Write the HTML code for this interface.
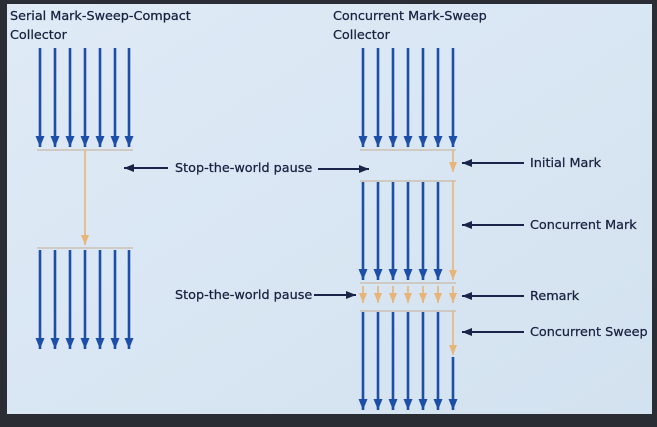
<!DOCTYPE html>
<html><head><meta charset="utf-8"><style>
html,body{margin:0;padding:0;background:#2a2d33;}
svg{display:block;}
text{font-family:"DejaVu Sans","Liberation Sans",sans-serif;font-size:12.8px;fill:#18213f;stroke:#18213f;stroke-width:0.25;}
</style></head><body>
<svg width="657" height="427" viewBox="0 0 657 427" xmlns="http://www.w3.org/2000/svg">
<defs>
<marker id="b" markerUnits="userSpaceOnUse" markerWidth="9" markerHeight="11" refX="4.5" refY="11" orient="0"><polygon points="0,0 9,0 4.5,11" fill="#1d4fa8"/></marker>
<marker id="o" markerUnits="userSpaceOnUse" markerWidth="8" markerHeight="10" refX="4" refY="10" orient="0"><polygon points="0,0 8,0 4,10" fill="#e6b577"/></marker>
<marker id="k" markerUnits="userSpaceOnUse" markerWidth="10" markerHeight="8" refX="10" refY="4" orient="auto"><polygon points="0,0 10,4 0,8" fill="#1a2448"/></marker>
<linearGradient id="bg" x1="0" y1="0" x2="1" y2="1"><stop offset="0" stop-color="#dfeaf6"/><stop offset="1" stop-color="#d3e2f0"/></linearGradient>
</defs>
<rect x="7" y="4" width="645" height="410" fill="url(#bg)"/>
<text x="10" y="20">Serial Mark-Sweep-Compact</text>
<text x="10" y="39">Collector</text>
<text x="333" y="20">Concurrent Mark-Sweep</text>
<text x="333" y="39">Collector</text>
<g stroke="#1d4fa8" stroke-width="2.6" marker-end="url(#b)">
<line x1="40" y1="48" x2="40" y2="147"/><line x1="55" y1="48" x2="55" y2="147"/><line x1="70" y1="48" x2="70" y2="147"/><line x1="85" y1="48" x2="85" y2="147"/><line x1="100" y1="48" x2="100" y2="147"/><line x1="115" y1="48" x2="115" y2="147"/><line x1="129" y1="48" x2="129" y2="147"/>
<line x1="40" y1="250" x2="40" y2="349"/><line x1="55" y1="250" x2="55" y2="349"/><line x1="70" y1="250" x2="70" y2="349"/><line x1="85" y1="250" x2="85" y2="349"/><line x1="100" y1="250" x2="100" y2="349"/><line x1="115" y1="250" x2="115" y2="349"/><line x1="129" y1="250" x2="129" y2="349"/>
<line x1="363" y1="48" x2="363" y2="147"/><line x1="378" y1="48" x2="378" y2="147"/><line x1="393" y1="48" x2="393" y2="147"/><line x1="408" y1="48" x2="408" y2="147"/><line x1="423" y1="48" x2="423" y2="147"/><line x1="438" y1="48" x2="438" y2="147"/><line x1="453" y1="48" x2="453" y2="147"/>
<line x1="363" y1="182" x2="363" y2="280"/><line x1="378" y1="182" x2="378" y2="280"/><line x1="393" y1="182" x2="393" y2="280"/><line x1="408" y1="182" x2="408" y2="280"/><line x1="423" y1="182" x2="423" y2="280"/><line x1="438" y1="182" x2="438" y2="280"/>
<line x1="363" y1="312" x2="363" y2="410"/><line x1="378" y1="312" x2="378" y2="410"/><line x1="393" y1="312" x2="393" y2="410"/><line x1="408" y1="312" x2="408" y2="410"/><line x1="423" y1="312" x2="423" y2="410"/><line x1="438" y1="312" x2="438" y2="410"/><line x1="453" y1="357" x2="453" y2="410"/>
</g>
<g stroke="#c9b9a8" stroke-width="1.3">
<line x1="37" y1="150" x2="133" y2="150"/><line x1="37" y1="248" x2="133" y2="248"/>
<line x1="360" y1="150" x2="456" y2="150"/><line x1="360" y1="181" x2="456" y2="181"/>
<line x1="360" y1="283" x2="456" y2="283"/><line x1="360" y1="311" x2="456" y2="311"/>
</g>
<g stroke="#e6b577" stroke-width="1.6" marker-end="url(#o)">
<line x1="85" y1="150" x2="85" y2="245"/>
<line x1="453" y1="150" x2="453" y2="172"/>
<line x1="453" y1="181" x2="453" y2="280"/>
<line x1="453" y1="311" x2="453" y2="355"/>
<line x1="363" y1="286" x2="363" y2="303"/><line x1="378" y1="286" x2="378" y2="303"/><line x1="393" y1="286" x2="393" y2="303"/><line x1="408" y1="286" x2="408" y2="303"/><line x1="423" y1="286" x2="423" y2="303"/><line x1="438" y1="286" x2="438" y2="303"/><line x1="453" y1="286" x2="453" y2="303"/>
</g>
<g stroke="#1a2448" stroke-width="2" marker-end="url(#k)">
<line x1="168" y1="168" x2="124" y2="168"/>
<line x1="318" y1="169" x2="369" y2="169"/>
<line x1="314" y1="295" x2="356" y2="295"/>
<line x1="524" y1="163" x2="462" y2="163"/>
<line x1="524" y1="225" x2="462" y2="225"/>
<line x1="524" y1="296" x2="462" y2="296"/>
<line x1="524" y1="332" x2="462" y2="332"/>
</g>
<text x="175" y="172">Stop-the-world pause</text>
<text x="175" y="299">Stop-the-world pause</text>
<text x="530" y="167">Initial Mark</text>
<text x="530" y="229">Concurrent Mark</text>
<text x="530" y="300">Remark</text>
<text x="530" y="336">Concurrent Sweep</text>
</svg>
</body></html>
